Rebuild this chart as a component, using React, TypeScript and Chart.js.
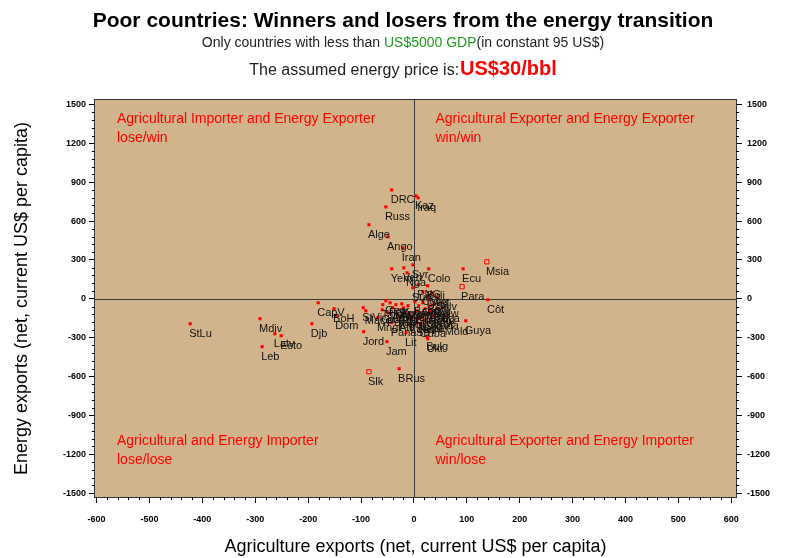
import React, { useEffect, useRef } from "react";
import { Chart, registerables } from "chart.js";

Chart.register(...registerables);

// ---------- data ----------
const countries = [
  "DRC", "Kaz", "Iraq", "Russ", "Alge", "Ango", "Iran", "Syr", "Yem", "Ven", "Colo", "Ecu", "Msia", "Nga",
  "Para", "Boli", "Côt", "PNG", "Sud", "Cong", "Viet", "Uzb", "Salv",
  "StLu", "Mdiv", "Latv", "Esto", "Leb", "Djb", "CapV", "BoH", "Dom", "StVi", "Mace", "Jord", "Jam",
  "Slk", "BRus", "Lit", "Bulg", "Ukr", "Mold", "Guya",
  "Tanz", "Geor", "Pak", "Arm", "Leso", "Sen", "Egyp", "Tuni", "Moro", "Phil", "Bang", "Gua", "Indi",
  "Kyrg", "Ghan", "Zimb", "Keny", "Bots", "Cmr", "Hond", "Malw", "Nica", "Pana", "Peru", "Alb", "Mngl",
  "Sri", "Cuba", "Guin", "Laos", "Nepa", "Ethi", "Mada", "Tajk", "Togo", "Beni",
];
const agriExports = [
  -42, 4, 8, -53, -85, -49, -21, -2, -42, -19, 28, 93, 138, -13,
  91, 26, 140, 8, -2, 17, 34, 26, 43,
  -423, -291, -263, -251, -287, -193, -181, -151, -147, -96, -91, -95, -51,
  -85, -28, -15, 25, 26, 60, 98,
  -59, -53, -45, -40, -34, -28, -23, -17, -11, -8, 2, 6, 9,
  13, 17, 21, 25, 28, 32, 30, 38, 47, -42, -49, -26, -68,
  6, 13, -60, -5, 10, 20, 35, 40, -30, -20,
];
const energyExports = [
  840, 794, 779, 709, 571, 478, 393, 262, 231, 239, 231, 231, 285, 200,
  93, 100, -8, 108, 85, 54, 46, 23, 15,
  -193, -154, -270, -285, -370, -193, -31, -77, -131, -69, -93, -254, -331,
  -563, -540, -262, -293, -308, -177, -170,
  -46, -15, -31, -69, -46, -85, -39, -100, -54, -123, -23, -93, -54,
  -139, -31, -77, -108, -8, -54, -93, -39, -77, -185, -108, -146, -146,
  -185, -193, -85, -160, -150, -162, -130, -115, -120, -70,
];
const hollowMarkers = ["Msia", "Para", "Slk"];

const xTickValues = [-600, -500, -400, -300, -200, -100, 0, 100, 200, 300, 400, 500, 600];
const yTickValues = [-1500, -1200, -900, -600, -300, 0, 300, 600, 900, 1200, 1500];

const titleText = "Poor countries: Winners and losers from the energy transition";
const subtitleParts = ["Only countries with less than ", "US$5000 GDP", "(in constant 95 US$)"];
const priceParts = ["The assumed energy price is:", "US$30/bbl"];
const quadrantTopLeft = ["Agricultural Importer and Energy Exporter", "lose/win"];
const quadrantTopRight = ["Agricultural Exporter and Energy Exporter", "win/win"];
const quadrantBottomLeft = ["Agricultural and Energy Importer", "lose/lose"];
const quadrantBottomRight = ["Agricultural Exporter and Energy Importer", "win/lose"];
const xAxisTitle = "Agriculture exports (net, current US$ per capita)";
const yAxisTitle = "Energy exports (net, current US$ per capita)";

const FONT = "'Liberation Sans', Arial, sans-serif";
const TAN = "#D2B48C";

const decorPlugin = {
  id: "decor",
  beforeDraw(chart: any) {
    const { ctx, chartArea } = chart;
    const { left, top, right, bottom } = chartArea;
    ctx.save();
    ctx.fillStyle = "#ffffff";
    ctx.fillRect(0, 0, chart.width, chart.height);
    ctx.fillStyle = TAN;
    ctx.fillRect(left, top, right - left, bottom - top);
    ctx.restore();
  },
  beforeDatasetsDraw(chart: any) {
    const { ctx, chartArea, scales } = chart;
    const { left, top, right, bottom } = chartArea;
    const x0 = Math.round(scales.x.getPixelForValue(0)) + 0.5;
    const y0 = Math.round(scales.y.getPixelForValue(0)) + 0.5;
    ctx.save();
    ctx.strokeStyle = "#3a3a3a";
    ctx.lineWidth = 1;
    ctx.beginPath();
    ctx.moveTo(x0, top);
    ctx.lineTo(x0, bottom);
    ctx.moveTo(left, y0);
    ctx.lineTo(right, y0);
    ctx.stroke();

    ctx.fillStyle = "#ff0000";
    ctx.font = `14px ${FONT}`;
    ctx.textBaseline = "middle";
    ctx.textAlign = "left";
    const lx = left + 22;
    const rx = x0 + 21;
    ctx.fillText(quadrantTopLeft[0], lx, top + 19);
    ctx.fillText(quadrantTopLeft[1], lx, top + 38);
    ctx.fillText(quadrantTopRight[0], rx, top + 19);
    ctx.fillText(quadrantTopRight[1], rx, top + 38);
    ctx.fillText(quadrantBottomLeft[0], lx, bottom - 56);
    ctx.fillText(quadrantBottomLeft[1], lx, bottom - 37);
    ctx.fillText(quadrantBottomRight[0], rx, bottom - 56);
    ctx.fillText(quadrantBottomRight[1], rx, bottom - 37);
    ctx.restore();
  },
  afterDatasetsDraw(chart: any) {
    const { ctx, scales } = chart;
    ctx.save();
    ctx.fillStyle = "#111111";
    ctx.font = `11px ${FONT}`;
    ctx.textBaseline = "top";
    ctx.textAlign = "left";
    for (let i = 0; i < countries.length; i++) {
      const px = scales.x.getPixelForValue(agriExports[i]);
      const py = scales.y.getPixelForValue(energyExports[i]);
      ctx.fillText(countries[i], px - 1, py + 5);
    }
    ctx.restore();
  },
  afterDraw(chart: any) {
    const { ctx, chartArea, scales } = chart;
    const { left, top, right, bottom } = chartArea;
    ctx.save();
    // frame
    ctx.strokeStyle = "#333333";
    ctx.lineWidth = 1;
    ctx.strokeRect(left - 0.5, top - 0.5, right - left + 1, bottom - top + 1);
    // minor ticks
    ctx.strokeStyle = "#000000";
    ctx.beginPath();
    for (let v = -600; v <= 600; v += 20) {
      if (v % 100 === 0) continue;
      const px = Math.round(scales.x.getPixelForValue(v)) + 0.5;
      ctx.moveTo(px, bottom);
      ctx.lineTo(px, bottom + 3);
    }
    for (let v = -1500; v <= 1500; v += 60) {
      if (v % 300 === 0) continue;
      const py = Math.round(scales.y.getPixelForValue(v)) + 0.5;
      ctx.moveTo(left - 3, py);
      ctx.lineTo(left, py);
      ctx.moveTo(right, py);
      ctx.lineTo(right + 3, py);
    }
    ctx.stroke();

    // titles
    const cx = 403;
    ctx.textBaseline = "alphabetic";
    ctx.textAlign = "center";
    ctx.fillStyle = "#000000";
    ctx.font = `bold 21px ${FONT}`;
    ctx.fillText(titleText, cx, 27);

    ctx.textAlign = "left";
    ctx.font = `14px ${FONT}`;
    const w0 = ctx.measureText(subtitleParts[0]).width;
    const w1 = ctx.measureText(subtitleParts[1]).width;
    const w2 = ctx.measureText(subtitleParts[2]).width;
    let sx = cx - (w0 + w1 + w2) / 2;
    ctx.fillStyle = "#222222";
    ctx.fillText(subtitleParts[0], sx, 47);
    sx += w0;
    ctx.fillStyle = "#1f9a1f";
    ctx.fillText(subtitleParts[1], sx, 47);
    sx += w1;
    ctx.fillStyle = "#222222";
    ctx.fillText(subtitleParts[2], sx, 47);

    ctx.font = `16px ${FONT}`;
    const p0 = ctx.measureText(priceParts[0]).width;
    ctx.font = `bold 20px ${FONT}`;
    const p1 = ctx.measureText(priceParts[1]).width;
    let tx = cx - (p0 + p1 + 1) / 2;
    ctx.font = `16px ${FONT}`;
    ctx.fillStyle = "#222222";
    ctx.fillText(priceParts[0], tx, 75);
    tx += p0 + 1;
    ctx.font = `bold 20px ${FONT}`;
    ctx.fillStyle = "#ff0000";
    ctx.fillText(priceParts[1], tx, 75);
    ctx.restore();
  },
};

export default function App() {
  const canvasRef = useRef<HTMLCanvasElement | null>(null);

  useEffect(() => {
    const canvas = canvasRef.current;
    if (!canvas) return;
    const points = countries.map((_, i) => ({ x: agriExports[i], y: energyExports[i] }));
    const isHollow = (i: number) => hollowMarkers.includes(countries[i]);
    const tickFont = { family: FONT, size: 9, weight: "bold" as const };

    const chart = new Chart(canvas, {
      type: "scatter",
      data: {
        datasets: [
          {
            data: points,
            pointStyle: "rect",
            pointRadius: (c: any) => (isHollow(c.dataIndex) ? 3 : 2.2),
            backgroundColor: (c: any) => (isHollow(c.dataIndex) ? "rgba(0,0,0,0)" : "#ff0000"),
            borderColor: "#ff0000",
            borderWidth: (c: any) => (isHollow(c.dataIndex) ? 1 : 0),
          },
        ],
      },
      options: {
        responsive: false,
        animation: false,
        devicePixelRatio: 1,
        layout: { padding: { top: 100, left: 0, right: 0, bottom: 0 } },
        plugins: {
          legend: { display: false },
          tooltip: { enabled: false },
          title: { display: false },
        },
        scales: {
          x: {
            type: "linear",
            position: "bottom",
            min: -603,
            max: 609,
            afterBuildTicks: (s: any) => {
              s.ticks = xTickValues.map((v) => ({ value: v }));
            },
            afterFit: (s: any) => {
              s.height = 61;
            },
            ticks: {
              font: tickFont,
              color: "#000",
              padding: 11,
              maxRotation: 0,
              autoSkip: false,
              callback: (v: any) => String(v),
            },
            grid: { drawOnChartArea: false, drawTicks: true, tickLength: 6, tickColor: "#000" },
            border: { display: false },
            title: {
              display: true,
              text: xAxisTitle,
              color: "#000",
              font: { family: FONT, size: 18 },
              padding: { top: 0, bottom: 0 },
            },
          },
          y: {
            type: "linear",
            position: "left",
            min: -1530,
            max: 1534,
            afterBuildTicks: (s: any) => {
              s.ticks = yTickValues.map((v) => ({ value: v }));
            },
            afterFit: (s: any) => {
              s.width = 95;
            },
            ticks: {
              font: tickFont,
              color: "#000",
              padding: 3,
              autoSkip: false,
              callback: (v: any) => String(v),
            },
            grid: { drawOnChartArea: false, drawTicks: true, tickLength: 6, tickColor: "#000" },
            border: { display: false },
            title: {
              display: true,
              text: yAxisTitle,
              color: "#000",
              font: { family: FONT, size: 18 },
              padding: { top: 11, bottom: 0 },
            },
          },
          y2: {
            type: "linear",
            position: "right",
            min: -1530,
            max: 1534,
            afterBuildTicks: (s: any) => {
              s.ticks = yTickValues.map((v) => ({ value: v }));
            },
            afterFit: (s: any) => {
              s.width = 62;
            },
            ticks: {
              font: tickFont,
              color: "#000",
              padding: 5,
              autoSkip: false,
              callback: (v: any) => String(v),
            },
            grid: { drawOnChartArea: false, drawTicks: true, tickLength: 6, tickColor: "#000" },
            border: { display: false },
          },
        },
      },
      plugins: [decorPlugin],
    });

    return () => {
      chart.destroy();
    };
  }, []);

  return (
    <div style={{ position: "absolute", left: 0, top: 0, width: 798, height: 558, background: "#fff" }}>
      <canvas ref={canvasRef} width={798} height={558} style={{ display: "block" }} />
    </div>
  );
}
